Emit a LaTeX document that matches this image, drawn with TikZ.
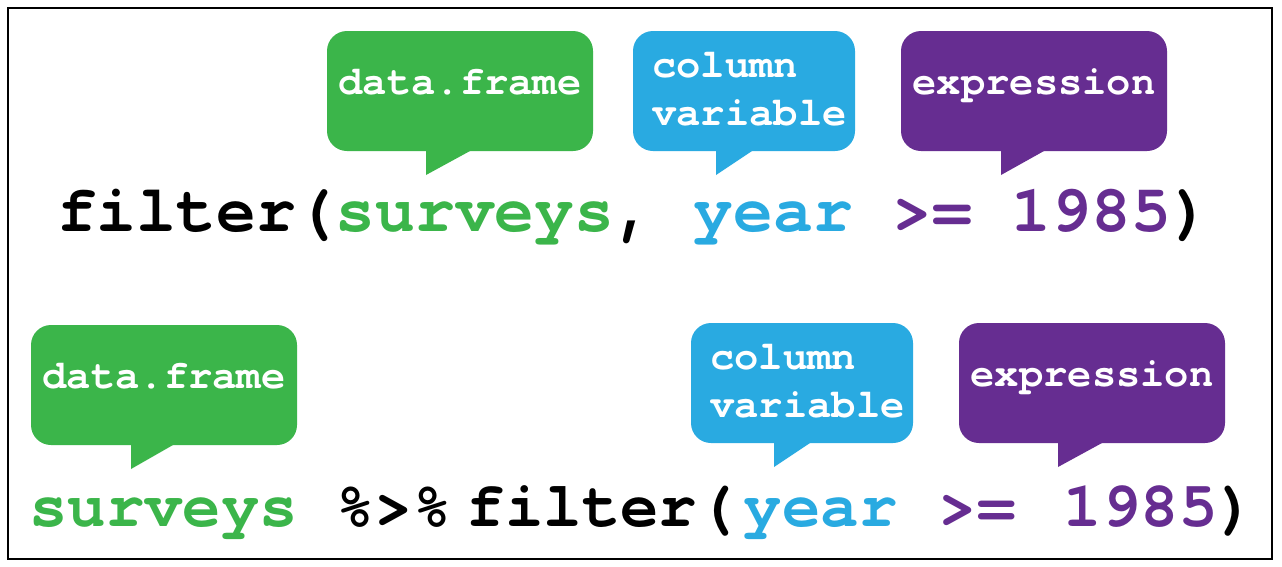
\documentclass[tikz,border=0pt]{standalone}
\usepackage{fontspec}
\newfontfamily\codefont{TeX Gyre Cursor}[Ligatures={NoCommon}]
\definecolor{dfgreen}{RGB}{59,181,74}
\definecolor{colblue}{RGB}{41,170,225}
\definecolor{exprpurple}{RGB}{102,45,145}
\tikzset{
  bubblefill/.style={rounded corners=20pt},
  tagtext/.style={text=white, inner sep=0pt, font=\codefont\bfseries\fontsize{40.5}{48}\selectfont},
  codetext/.style={inner sep=0pt, anchor=base west, font=\codefont\bfseries\fontsize{66.3}{66.3}\selectfont},
}
% speech bubble: colour, left, top, right, bottom, tail start, tail end (offsets from left)
\newcommand{\speechbubble}[7]{%
  \fill[#1, bubblefill] (#2,#3) rectangle (#4,#5);
  \fill[#1] ({#2+#6},{#5-2}) -- ({#2+#6},{#5+24}) -- ({#2+#7},#5) -- ({#2+#7},{#5-2}) -- cycle;
}
\begin{document}
\begin{tikzpicture}[x=1pt,y=-1pt]
\useasboundingbox (0,0) rectangle (1282,566);
\fill[white] (0,0) rectangle (1282,566);
\draw[line width=2pt] (8,8) rectangle (1272,559);

% upper row of bubbles
\speechbubble{dfgreen}{327}{31}{593}{151}{99}{143}
\speechbubble{colblue}{633}{31}{855}{151}{83}{119}
\speechbubble{exprpurple}{901}{31}{1167}{151}{100}{143}
\node[tagtext, anchor=base] (dfA) at (460,94) {data.frame};
\node[tagtext, anchor=base west] (colA1) at (652,77) {column};
\node[tagtext, anchor=base west] (colA2) at (652,125) {variable};
\node[tagtext, anchor=base] (exA) at (1034,94) {expression};

% lower row of bubbles
\speechbubble{dfgreen}{31}{325}{297}{445}{100}{142}
\speechbubble{colblue}{691}{323}{913}{443}{83}{119}
\speechbubble{exprpurple}{959}{323}{1225}{443}{99}{143}
\node[tagtext, anchor=base] (dfB) at (164,388) {data.frame};
\node[tagtext, anchor=base west] (colB1) at (710,369) {column};
\node[tagtext, anchor=base west] (colB2) at (710,417) {variable};
\node[tagtext, anchor=base] (exB) at (1092,386) {expression};

% the two code lines
\node[codetext] (codeA) at (57,231) {filter(\textcolor{dfgreen}{surveys}, \textcolor{colblue}{year} \textcolor{exprpurple}{>= 1985})};
\node[codetext, font=\codefont\bfseries\fontsize{64}{64}\selectfont] (codeB) at (29,526) {\textcolor{dfgreen}{surveys} \%>\% \kern-23pt filter(\kern8pt\textcolor{colblue}{year} \kern3pt\textcolor{exprpurple}{>= \kern10pt 1985})};
\end{tikzpicture}
\end{document}
